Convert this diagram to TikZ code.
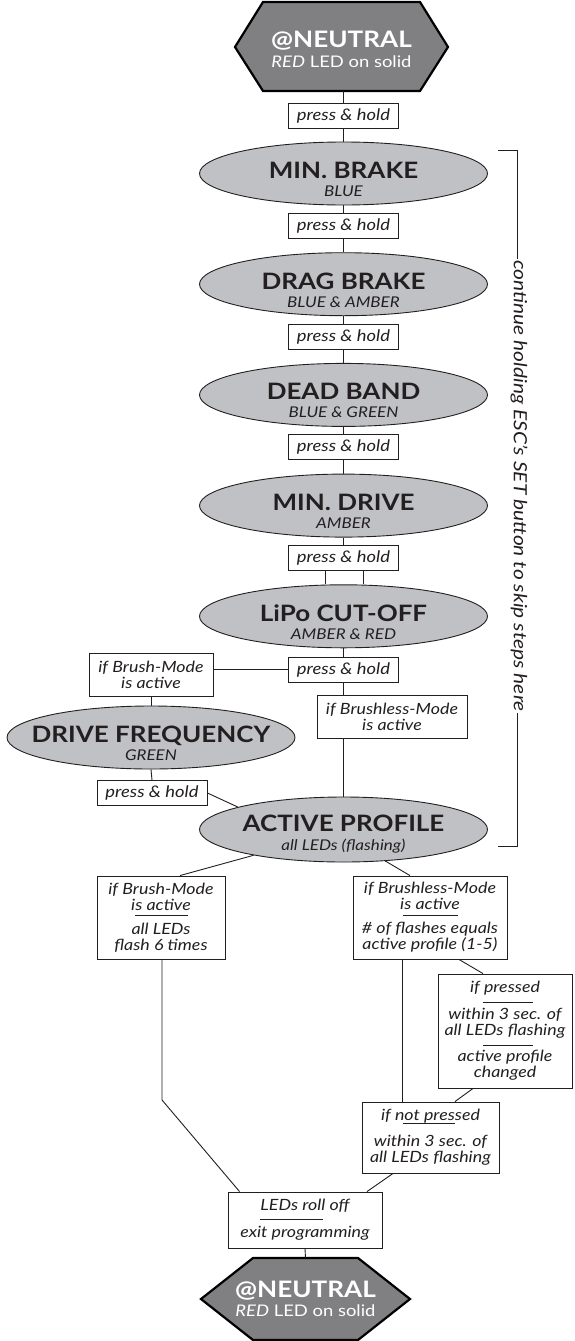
\documentclass[tikz,border=0pt]{standalone}
\usepackage{fontspec}
\setmainfont[FakeStretch=1.15]{Lato}
\usetikzlibrary{shapes.geometric}
\definecolor{ellfill}{RGB}{192,193,196}
\definecolor{hexfill}{RGB}{128,128,130}
\definecolor{ink}{RGB}{35,31,32}
\tikzset{
  conn/.style={draw=ink, line width=0.9pt},
  stage/.style={ellipse, draw=ink, line width=0.9pt, fill=ellfill, minimum width=288pt, minimum height=63pt, inner sep=0pt},
  ttl/.style={anchor=base, inner sep=0pt, text=ink, font=\fontsize{22.6}{24}\selectfont\bfseries},
  sub/.style={anchor=base, inner sep=0pt, text=ink, font=\fontsize{14.8}{15}\selectfont\itshape},
  phbox/.style={draw=ink, line width=0.9pt, fill=white, minimum width=110pt, minimum height=25pt, inner sep=0pt, text=ink, font=\fontsize{16}{17}\selectfont\itshape},
  txbox/.style={draw=ink, line width=0.9pt, fill=white, inner sep=0pt, align=center, text=ink, font=\fontsize{15.5}{16}\selectfont\itshape},
  hexshape/.style={draw=black, line width=2.2pt, fill=hexfill, line join=miter},
  hexttl/.style={anchor=base, inner sep=0pt, text=white, font=\fontsize{22.7}{23}\selectfont\bfseries},
  hexsub/.style={anchor=base, inner sep=0pt, text=white, font=\fontsize{16}{17}\selectfont},
  sep/.style={draw=ink, line width=0.8pt},
}
\newcommand{\stagenode}[5]{%
  \node[stage] (#1) at (#2,#3) {};
  \node[ttl] (#1-t) at (#2,#3+4.8) {#4};
  \node[sub] (#1-s) at (#2,#3+23) {#5};
}
\begin{document}
\begin{tikzpicture}[x=1pt,y=-1pt]
\useasboundingbox (0,0) rectangle (574,1341);

% top hexagon
\draw[hexshape] (235,47) -- (263,2) -- (420,2) -- (448,47) -- (420,91) -- (263,91) -- cycle;
\node[hexttl] (n1t) at (341.5,47) {@NEUTRAL};
\node[hexsub] (n1s) at (341.5,67) {\textit{RED} LED on solid};
\coordinate (th) at (343.5,91);

% main column
\node[phbox] (ph1) at (343.5,116) {press \& hold};
\stagenode{mb}{343.5}{173.5}{MIN. BRAKE}{BLUE}
\node[phbox] (ph2) at (343.5,226) {press \& hold};
\stagenode{drb}{343.5}{284.2}{DRAG BRAKE}{BLUE \& AMBER}
\node[phbox] (ph3) at (343.5,336.7) {press \& hold};
\stagenode{deb}{343.5}{394.9}{DEAD BAND}{BLUE \& GREEN}
\node[phbox] (ph4) at (343.5,447.4) {press \& hold};
\stagenode{md}{343.5}{505.6}{MIN. DRIVE}{AMBER}
\node[phbox] (ph5) at (343.5,558.1) {press \& hold};
\stagenode{lipo}{343.5}{616.3}{LiPo CUT-OFF}{AMBER \& RED}
\node[phbox] (ph6) at (343.5,669.5) {press \& hold};

\node[txbox, minimum width=124pt, minimum height=43pt] (brA) at (151,674.5) {if Brush-Mode\\is active};
\node[txbox, minimum width=150pt, minimum height=43pt] (blA) at (392,716.5) {if Brushless-Mode\\is active};
\stagenode{df}{151}{737.5}{DRIVE FREQUENCY}{GREEN}
\node[phbox] (dfph) at (152,793) {press \& hold};

\node[stage, minimum height=65pt] (ap) at (343.5,829.5) {};
\node[ttl] (ap-t) at (343.5,831) {ACTIVE PROFILE};
\node[sub] (ap-s) at (343.5,850) {all LEDs (flashing)};

\node[txbox, minimum width=128pt, minimum height=83pt] (bb2) at (161,917.5)
  {if Brush-Mode\\is active\\[8pt]all LEDs\\flash 6 times};
\node[txbox, minimum width=154pt, minimum height=83pt] (bl2) at (430,917.5)
  {if Brushless-Mode\\is active\\[8pt]\# of flashes equals\\active profile (1-5)};
\node[txbox, minimum width=134pt, minimum height=114pt] (ip) at (505,1031)
  {if pressed\\[11pt]within 3 sec. of\\all LEDs flashing\\[10pt]active profile\\changed};
\node[txbox, minimum width=137pt, minimum height=71pt] (inp) at (430.5,1137.5)
  {if not pressed\\[10pt]within 3 sec. of\\all LEDs flashing};
\node[txbox, minimum width=154pt, minimum height=56pt] (led) at (305,1220)
  {LEDs roll off\\[11pt]exit programming};

% bottom hexagon
\coordinate (bh) at (305.5,1258);
\draw[hexshape] (201,1299) -- (253,1258) -- (358,1258) -- (410,1299) -- (358,1340) -- (253,1340) -- cycle;
\node[hexttl] (n2t) at (305.5,1297) {@NEUTRAL};
\node[hexsub] (n2s) at (305.5,1316) {\textit{RED} LED on solid};

% separators
\draw[sep] ([xshift=-26pt,yshift=2.5pt]bb2.center) -- ([xshift=27pt,yshift=2.5pt]bb2.center);
\draw[sep] ([xshift=-27pt,yshift=2.5pt]bl2.center) -- ([xshift=28pt,yshift=2.5pt]bl2.center);
\draw[sep] ([xshift=-22pt,yshift=29pt]ip.center) -- ([xshift=28pt,yshift=29pt]ip.center);
\draw[sep] ([xshift=-22pt,yshift=-14pt]ip.center) -- ([xshift=28pt,yshift=-14pt]ip.center);
\draw[sep] ([xshift=-27.5pt,yshift=14.5pt]inp.center) -- ([xshift=24.5pt,yshift=14.5pt]inp.center);
\draw[sep] ([xshift=-45pt,yshift=1pt]led.center) -- ([xshift=18pt,yshift=1pt]led.center);

% connectors
\draw[conn] (th) -- (ph1.north);
\draw[conn] (ph1.south) -- (mb.north);
\draw[conn] (mb.south) -- (ph2.north);
\draw[conn] (ph2.south) -- (drb.north);
\draw[conn] (drb.south) -- (ph3.north);
\draw[conn] (ph3.south) -- (deb.north);
\draw[conn] (deb.south) -- (ph4.north);
\draw[conn] (ph4.south) -- (md.north);
\draw[conn] (md.south) -- (ph5.north);
\draw[conn] ([xshift=-18.5pt]ph5.south) -- ([xshift=-18.5pt]ph5.south |- lipo.north);
\draw[conn] ([xshift=19.5pt]ph5.south) -- ([xshift=19.5pt]ph5.south |- lipo.north);
\draw[conn] (lipo.south) -- (ph6.north);
\draw[conn] (ph6.west) -- (ph6.west -| brA.east);
\draw[conn] (ph6.south) -- (ph6.south |- blA.north);
\draw[conn] (blA.south -| ap.north) -- (ap.north);
\draw[conn] (brA.south) -- (df.north);
\draw[conn] (df.south) -- (dfph.north);
\draw[conn] (dfph.east) -- (ap.168);
\draw[conn] (ap.196) -- ([xshift=19pt]bb2.north);
\draw[conn] (ap.-37) -- ([xshift=-20pt]bl2.north);
\coordinate (bend) at (162,1100);
\draw[conn] (bb2.south -| bend) -- (bend) -- ([xshift=12pt]led.north west);
\draw[conn] ([xshift=-28pt]bl2.south) -- ([xshift=-28pt]bl2.south |- inp.north);
\draw[conn] ([xshift=29pt]bl2.south) -- ([xshift=-22pt]ip.north);
\draw[conn] ([xshift=-32pt]ip.south) -- ([xshift=24.5pt]inp.north);
\draw[conn] ([xshift=-37.5pt]inp.south) -- ([xshift=62pt]led.north);
\draw[conn] (led.south) -- (bh);

% bracket
\draw[conn] (498,150) -- (517,150) -- (517,846) -- (498,846);
\node[fill=white, inner sep=1.5pt, rotate=-90, text=ink, font=\fontsize{18.2}{19}\selectfont\itshape] (note) at (519,486)
  {continue holding ESC’s SET button to skip steps here};
\end{tikzpicture}
\end{document}
